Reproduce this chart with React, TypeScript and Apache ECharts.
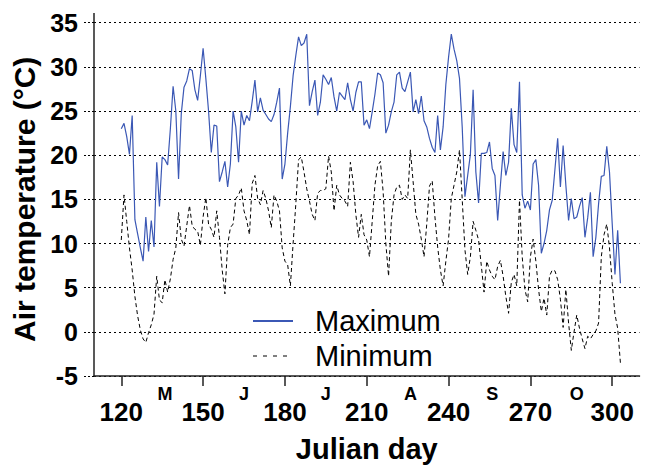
import React, { useEffect, useRef } from 'react';
import * as echarts from 'echarts';

// Julian day of the first value in each series (one value per day)
const firstDay = 120;

// Daily maximum air temperature (°C), days 120–303
const maxTemp = [
  23.0, 23.6, 22.1, 20.1, 24.5, 12.7, 11.1, 9.5, 8.0, 13.0,
  9.1, 12.6, 9.6, 19.2, 14.2, 19.8, 19.5, 18.9, 23.0, 27.8,
  25.0, 17.3, 24.7, 27.7, 28.4, 29.8, 29.6, 27.4, 26.2, 29.0,
  32.1, 28.7, 25.0, 20.3, 23.4, 23.3, 17.0, 18.1, 19.3, 16.4,
  19.0, 25.0, 23.2, 19.2, 25.0, 23.4, 24.5, 23.9, 26.1, 28.5,
  24.9, 26.5, 25.1, 24.6, 24.1, 23.8, 24.6, 26.0, 27.6, 17.3,
  19.0, 22.5, 25.5, 29.0, 31.3, 33.4, 32.4, 32.7, 33.7, 25.6,
  27.2, 28.5, 24.5, 26.0, 29.1, 28.6, 28.0, 28.8, 26.6, 25.0,
  27.1, 26.7, 26.3, 28.2, 26.3, 25.0, 27.1, 28.3, 28.3, 23.4,
  24.0, 23.0, 24.9, 26.9, 29.3, 29.1, 28.2, 22.5, 23.4, 24.9,
  26.0, 29.1, 29.4, 27.6, 27.2, 28.3, 29.4, 24.9, 26.3, 24.7,
  26.7, 23.9, 23.2, 21.9, 20.9, 20.3, 24.5, 20.6, 23.2, 28.0,
  31.1, 33.7, 32.0, 30.7, 28.7, 23.2, 15.3, 17.7, 20.1, 27.4,
  18.1, 14.6, 20.2, 20.2, 20.3, 21.5, 18.5, 17.7, 12.6, 16.6,
  20.4, 17.7, 19.2, 25.3, 21.2, 20.3, 28.3, 15.5, 14.0, 14.8,
  13.8, 19.0, 19.5, 16.6, 8.9, 10.0, 11.5, 13.8, 14.9, 18.4,
  21.9, 16.4, 21.1, 16.6, 12.6, 15.1, 12.8, 13.0, 14.2, 15.2,
  10.7, 12.9, 15.8, 8.5, 10.7, 14.5, 17.6, 17.7, 21.0, 18.1,
  12.2, 6.5, 11.5, 5.5,
];

// Daily minimum air temperature (°C), days 120–303
const minTemp = [
  10.4, 15.5, 12.5, 9.5, 7.0, 4.0, 1.8, 0.2, -0.8, -1.2,
  -0.1, 0.8, 2.0, 6.3, 3.6, 3.3, 5.9, 4.5, 6.0, 8.2,
  9.5, 13.5, 10.5, 9.7, 12.0, 14.3, 12.0, 11.6, 11.4, 9.8,
  13.0, 15.2, 12.2, 11.6, 10.7, 13.7, 10.7, 7.0, 4.3, 9.8,
  11.8, 12.2, 15.1, 15.5, 16.3, 13.7, 12.6, 11.0, 16.8, 17.7,
  15.1, 14.4, 16.0, 15.1, 13.7, 11.8, 15.5, 14.8, 13.7, 9.5,
  8.0, 7.6, 5.2, 10.0, 14.5, 19.5, 19.8, 18.1, 16.2, 14.8,
  13.3, 12.6, 15.7, 16.0, 16.0, 16.2, 19.9, 18.1, 13.7, 16.6,
  15.5, 15.1, 14.8, 14.2, 19.2, 17.0, 13.3, 10.7, 13.3, 11.0,
  10.4, 8.5, 12.5, 16.6, 18.8, 19.3, 15.9, 10.0, 6.3, 12.5,
  15.5, 16.4, 16.6, 15.0, 15.5, 15.1, 20.6, 17.0, 13.3, 12.2,
  10.5, 8.5, 12.2, 16.5, 17.1, 13.0, 9.6, 7.0, 5.2, 8.0,
  10.5, 15.1, 16.6, 18.1, 20.6, 15.0, 9.3, 6.5, 8.5, 12.5,
  11.5, 10.4, 7.5, 4.5, 8.0, 7.0, 6.3, 5.9, 7.4, 8.1,
  6.3, 4.0, 2.1, 5.6, 6.5, 5.2, 14.9, 8.5, 4.8, 3.4,
  8.5, 10.5, 8.0, 4.8, 2.3, 3.8, 1.9, 6.3, 7.0, 6.9,
  5.9, 3.7, 0.5, 4.8, 1.0, -2.1, 0.0, 1.9, 0.4, -0.8,
  -1.9, -0.5, -0.8, -0.3, 0.1, 1.0, 8.5, 11.0, 12.2, 9.5,
  5.5, 2.0, 0.4, -3.5,
];

const dayTicks = [120, 150, 180, 210, 240, 270, 300];
const monthLetters = ['M', 'J', 'J', 'A', 'S', 'O'];
const monthLabelDays = [136, 165, 195, 226, 256, 287];
const xMin = 110;
const xMax = 310;
const yMin = -5;
const yMax = 35;
const yStep = 5;

export default function App() {
  const ref = useRef<HTMLDivElement>(null);

  useEffect(() => {
    const chart = echarts.init(ref.current!, null, { renderer: 'svg' });
    const font = "'Liberation Sans', Arial, Helvetica, sans-serif";
    const toPairs = (arr: number[]) => arr.map((v, i) => [firstDay + i, v]);
    const gridLeft = 94;
    const gridTop = 22.7;

    chart.setOption({
      animation: false,
      backgroundColor: '#fff',
      grid: { left: gridLeft, right: 5.5, top: gridTop, bottom: 82, containLabel: false },
      legend: {
        orient: 'vertical',
        left: 247,
        top: 301,
        itemWidth: 40,
        itemHeight: 14,
        itemGap: 5,
        data: [
          { name: 'Maximum' },
          { name: 'Minimum', lineStyle: { type: [4, 6], width: 1 } },
        ],
        itemStyle: { opacity: 0, borderWidth: 0 },
        textStyle: {
          fontFamily: font,
          fontSize: 29,
          color: '#000',
          lineHeight: 30,
          padding: [0, 0, 0, 17],
        },
      },
      xAxis: [
        {
          type: 'value',
          min: xMin,
          max: xMax,
          position: 'bottom',
          name: 'Julian day',
          nameLocation: 'middle',
          nameGap: 58,
          nameTextStyle: { fontFamily: font, fontSize: 29, fontWeight: 'bold', color: '#000' },
          axisLine: { show: true, onZero: false, lineStyle: { color: '#222', width: 1.5 } },
          axisTick: {
            show: true,
            inside: false,
            length: 10,
            customValues: dayTicks,
            lineStyle: { color: '#222', width: 1.5 },
          },
          axisLabel: {
            customValues: dayTicks,
            margin: 23,
            fontFamily: font,
            fontSize: 26,
            fontWeight: 'bold',
            color: '#000',
          },
          splitLine: { show: false },
        },
        {
          type: 'value',
          min: xMin,
          max: xMax,
          position: 'bottom',
          axisLine: { show: false },
          axisTick: { show: false },
          splitLine: { show: false },
          axisLabel: {
            customValues: monthLabelDays,
            formatter: (v: number) => {
              const i = monthLabelDays.indexOf(Math.round(v));
              return i >= 0 ? monthLetters[i] : '';
            },
            margin: 9,
            fontFamily: font,
            fontSize: 18,
            fontWeight: 'bold',
            color: '#000',
          },
        },
      ],
      yAxis: {
        type: 'value',
        min: yMin,
        max: yMax,
        interval: yStep,
        name: 'Air temperature (°C)',
        nameLocation: 'middle',
        nameRotate: 90,
        nameGap: 50,
        nameTextStyle: { fontFamily: font, fontSize: 30, fontWeight: 'bold', color: '#000' },
        axisLine: { show: true, onZero: false, lineStyle: { color: '#222', width: 1.5 } },
        axisTick: { show: true, length: 11, lineStyle: { color: '#000', width: 1, type: [2, 2] } },
        axisLabel: {
          margin: 16,
          fontFamily: font,
          fontSize: 25,
          fontWeight: 'bold',
          color: '#000',
        },
        splitLine: { show: true, lineStyle: { color: '#000', width: 1, type: [2, 3] } },
      },
      graphic: [
        {
          type: 'line',
          shape: { x1: gridLeft, y1: 13, x2: gridLeft, y2: gridTop },
          style: { stroke: '#222', lineWidth: 1.5 },
          silent: true,
        },
      ],
      series: [
        {
          name: 'Maximum',
          type: 'line',
          xAxisIndex: 0,
          data: toPairs(maxTemp),
          symbol: 'none',
          showSymbol: false,
          lineStyle: { color: '#3b58b5', width: 1.2 },
          itemStyle: { color: '#3b58b5' },
          z: 3,
        },
        {
          name: 'Minimum',
          type: 'line',
          xAxisIndex: 0,
          data: toPairs(minTemp),
          symbol: 'none',
          showSymbol: false,
          lineStyle: { color: '#000', width: 1, type: [4, 3] },
          itemStyle: { color: '#000' },
          z: 2,
        },
      ],
    });

    return () => chart.dispose();
  }, []);

  return (
    <div
      ref={ref}
      style={{ position: 'fixed', left: 0, top: 0, width: 645, height: 468 }}
    />
  );
}
